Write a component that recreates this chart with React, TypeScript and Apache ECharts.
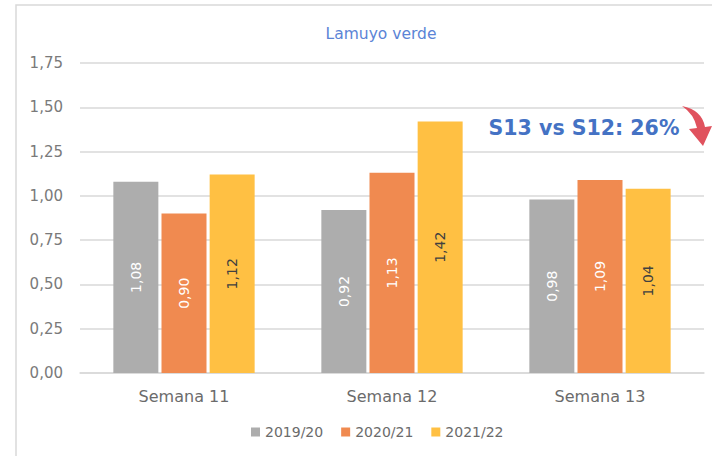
import React, { useEffect, useRef } from "react";
import * as echarts from "echarts";

const categories = ["Semana 11", "Semana 12", "Semana 13"];
const seriesNames = ["2019/20", "2020/21", "2021/22"];
const values2019 = [1.08, 0.92, 0.98];
const values2020 = [0.9, 1.13, 1.09];
const values2021 = [1.12, 1.42, 1.04];
const colors = ["#ADADAD", "#F08A50", "#FFC043"];
const labelColors = ["#FFFFFF", "#FFFFFF", "#404040"];
const titleText = "Lamuyo verde";
const annotationText = "S13 vs S12: 26%";

const FONT = "'DejaVu Sans', sans-serif";
const fmt = (v: number) => v.toFixed(2).replace(".", ",");

echarts.graphic.registerShape(
  "curvedArrow",
  echarts.graphic.extendPath(
    "M682 106 Q702 110 705 127 L712 126 L703 146 L689 129 L697 128 Q694 114 682 106 Z",
    {}
  )
);

export default function App() {
  const ref = useRef<HTMLDivElement>(null);
  useEffect(() => {
    if (!ref.current) return;
    const chart = echarts.init(ref.current, undefined, { renderer: "svg" });
    const data = [values2019, values2020, values2021];
    chart.setOption({
      animation: false,
      backgroundColor: "#FFFFFF",
      textStyle: { fontFamily: FONT },
      title: {
        text: titleText,
        left: 376,
        textAlign: "center",
        top: 21,
        textStyle: { color: "#5B84D6", fontSize: 15.5, fontWeight: "normal", fontFamily: FONT },
      },
      legend: {
        bottom: 12,
        left: 246,
        icon: "rect",
        itemWidth: 9,
        itemHeight: 9,
        itemGap: 18,
        textStyle: { color: "#6B6B6B", fontSize: 14, fontFamily: FONT },
        data: seriesNames,
      },
      grid: { left: 80, right: 8, top: 63, bottom: 83, containLabel: false },
      xAxis: {
        type: "category",
        data: categories,
        axisLine: { lineStyle: { color: "#D9D9D9", width: 1.5 } },
        axisTick: { show: false },
        axisLabel: { color: "#6B6B6B", fontSize: 16, margin: 15, fontFamily: FONT },
      },
      yAxis: {
        type: "value",
        min: 0,
        max: 1.75,
        interval: 0.25,
        axisLine: { show: false },
        axisTick: { show: false },
        splitLine: { lineStyle: { color: "#D9D9D9", width: 1.5 } },
        axisLabel: {
          color: "#7A7A7A",
          fontSize: 15,
          margin: 17,
          fontFamily: FONT,
          formatter: (v: number) => fmt(v),
        },
      },
      series: seriesNames.map((name, i) => ({
        name,
        type: "bar",
        data: data[i],
        barWidth: 45,
        barGap: "7%",
        itemStyle: { color: colors[i] },
        label: {
          show: true,
          position: "inside",
          rotate: 90,
          color: labelColors[i],
          fontSize: 14,
          fontFamily: FONT,
          formatter: (p: any) => fmt(p.value),
        },
      })),
      graphic: [
        {
          type: "polyline",
          shape: { points: [[16, 456], [16, 5], [712, 5]] },
          style: { stroke: "#D9D9D9", lineWidth: 1.5, fill: null },
          z: 10,
        },
        {
          type: "rect",
          shape: { x: 475, y: 109.5, width: 229, height: 41 },
          style: { fill: "#FFFFFF" },
          z: 10,
        },
        {
          type: "text",
          x: 584,
          y: 128,
          style: {
            text: annotationText,
            fill: "#4472C4",
            fontSize: 20.5,
            fontWeight: "bold",
            fontFamily: FONT,
            align: "center",
            verticalAlign: "middle",
          },
          z: 11,
        },
        {
          type: "curvedArrow",
          x: 0,
          y: 0,
          style: { fill: "#E0525E" },
          z: 11,
        },
      ],
    });
    return () => chart.dispose();
  }, []);
  return (
    <div
      ref={ref}
      style={{ position: "fixed", left: 0, top: 0, width: 712, height: 456 }}
    />
  );
}
